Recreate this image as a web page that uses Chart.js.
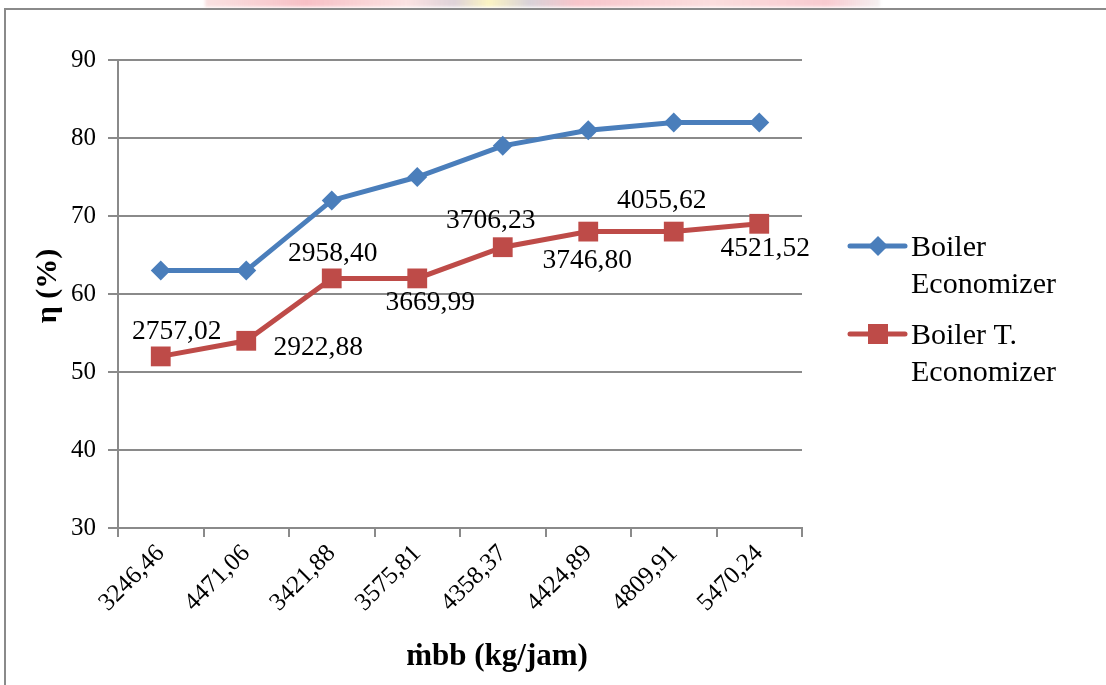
<!DOCTYPE html>
<html>
<head>
<meta charset="utf-8">
<script src="https://cdn.jsdelivr.net/npm/chart.js@4/dist/chart.umd.min.js"></script>
<style>
  html, body { margin: 0; padding: 0; background: #fff; }
  #wrap { position: relative; width: 1106px; height: 685px; overflow: hidden; }
  #frame { position: absolute; left: 4px; top: 8px; width: 1200px; height: 800px;
           border: 2px solid #8a8a8a; box-sizing: border-box; pointer-events: none; }
  #band { position: absolute; left: 205px; top: -4px; width: 675px; height: 11px;
          background: linear-gradient(90deg, rgba(238,170,170,0.35) 0%, rgba(240,140,150,0.55) 15%,
            rgba(245,190,190,0.45) 30%, rgba(200,180,190,0.6) 37%, rgba(250,240,170,0.7) 42%,
            rgba(190,180,190,0.6) 48%, rgba(240,150,160,0.55) 55%, rgba(245,180,180,0.45) 75%,
            rgba(240,150,160,0.5) 92%, rgba(230,220,220,0.4) 100%);
          filter: blur(1.5px); }
  canvas { position: absolute; left: 0; top: 0; }
</style>
</head>
<body>
<div id="wrap">
  <div id="band"></div>
  <div id="frame"></div>
  <canvas id="c" width="1106" height="685"></canvas>
</div>
<script>
// Mass flow of fuel (kg/jam) per test
const categories = ['3246,46', '4471,06', '3421,88', '3575,81', '4358,37', '4424,89', '4809,91', '5470,24'];
// Efficiency (%) with economizer
const boilerEconomizer = [63, 63, 72, 75, 79, 81, 82, 82];
// Efficiency (%) without economizer
const boilerTEconomizer = [52, 54, 62, 62, 66, 68, 68, 69];
// Annotations printed next to the red series
const redLabels = ['2757,02', '2922,88', '2958,40', '3669,99', '3706,23', '3746,80', '4055,62', '4521,52'];
const yTicks = [30, 40, 50, 60, 70, 80, 90];

const FONT = "'Liberation Serif', 'Times New Roman', serif";
const BLUE = '#4A7EBB';
const RED = '#BE4B48';
const GRID = '#8a8a8a';

// label offsets (text centre relative to the point)
const labelPlacement = [
  [16, -25], [72, 7], [1, -25], [13, 24], [-12, -26], [-1, 29], [-12, -31], [6, 25]
];

const pointLabelsPlugin = {
  id: 'pointLabels',
  afterDatasetsDraw(chart) {
    const meta = chart.getDatasetMeta(1);
    const ctx = chart.ctx;
    ctx.save();
    ctx.font = '27.5px ' + FONT;
    ctx.fillStyle = '#000';
    ctx.textAlign = 'center';
    ctx.textBaseline = 'middle';
    meta.data.forEach((pt, i) => {
      const [dx, dy] = labelPlacement[i];
      ctx.fillText(redLabels[i], pt.x + dx, pt.y + dy);
    });
    ctx.restore();
  }
};

const titlesPlugin = {
  id: 'axisTitles',
  afterDraw(chart) {
    const ctx = chart.ctx;
    const a = chart.chartArea;
    ctx.save();
    ctx.fillStyle = '#000';
    ctx.font = 'bold 31px ' + FONT;
    ctx.textAlign = 'center';
    ctx.textBaseline = 'middle';
    ctx.fillText('ṁbb (kg/jam)', (a.left + a.right) / 2 + 37, 657);
    ctx.translate(48, (a.top + a.bottom) / 2 - 8);
    ctx.rotate(-Math.PI / 2);
    ctx.font = 'bold 30px ' + FONT;
    ctx.fillText('η (%)', 0, 0);
    ctx.restore();
  }
};

function drawMarker(ctx, style, x, y, color) {
  ctx.fillStyle = color;
  ctx.beginPath();
  if (style === 'rectRot') {
    const r = 10;
    ctx.moveTo(x, y - r); ctx.lineTo(x + r, y); ctx.lineTo(x, y + r); ctx.lineTo(x - r, y);
    ctx.closePath();
  } else {
    ctx.rect(x - 10, y - 10, 20, 20);
  }
  ctx.fill();
}

const legendPlugin = {
  id: 'sideLegend',
  afterDraw(chart) {
    const ctx = chart.ctx;
    const x0 = chart.chartArea.right + 48;
    const items = [
      { lines: ['Boiler', 'Economizer'], y: 246, color: BLUE, style: 'rectRot' },
      { lines: ['Boiler T.', 'Economizer'], y: 334, color: RED, style: 'rect' }
    ];
    ctx.save();
    items.forEach(it => {
      ctx.strokeStyle = it.color;
      ctx.lineWidth = 5;
      ctx.lineCap = 'round';
      ctx.beginPath();
      ctx.moveTo(x0, it.y);
      ctx.lineTo(x0 + 55, it.y);
      ctx.stroke();
      drawMarker(ctx, it.style, x0 + 28, it.y, it.color);
      ctx.fillStyle = '#000';
      ctx.font = '30px ' + FONT;
      ctx.textAlign = 'left';
      ctx.textBaseline = 'middle';
      it.lines.forEach((t, k) => ctx.fillText(t, x0 + 61, it.y + 2 + k * 37));
    });
    ctx.restore();
  }
};

new Chart(document.getElementById('c'), {
  type: 'line',
  data: {
    labels: categories,
    datasets: [
      {
        label: 'Boiler Economizer',
        data: boilerEconomizer,
        borderColor: BLUE,
        backgroundColor: BLUE,
        borderWidth: 5,
        pointStyle: 'rectRot',
        pointRadius: 10,
        pointHoverRadius: 10,
        pointBorderWidth: 0,
        tension: 0
      },
      {
        label: 'Boiler T. Economizer',
        data: boilerTEconomizer,
        borderColor: RED,
        backgroundColor: RED,
        borderWidth: 5,
        pointStyle: 'rect',
        pointRadius: 14,
        pointHoverRadius: 14,
        pointBorderWidth: 0,
        tension: 0
      }
    ]
  },
  options: {
    responsive: false,
    animation: false,
    devicePixelRatio: 1,
    layout: { padding: { left: 14, right: 304, top: 60, bottom: 10 } },
    plugins: {
      legend: { display: false },
      tooltip: { enabled: false }
    },
    scales: {
      x: {
        type: 'category',
        offset: true,
        grid: { offset: true, drawOnChartArea: false, color: GRID, lineWidth: 2, tickLength: 9 },
        border: { display: true, color: GRID, width: 2 },
        ticks: {
          font: { family: FONT, size: 25 },
          color: '#000',
          minRotation: 45,
          maxRotation: 45,
          padding: 2,
          autoSkip: false
        },
        afterFit(scale) { scale.height = 147; }
      },
      y: {
        min: yTicks[0],
        max: yTicks[yTicks.length - 1],
        afterBuildTicks(scale) { scale.ticks = yTicks.map(v => ({ value: v })); },
        grid: { color: GRID, lineWidth: 2, tickLength: 10 },
        border: { display: true, color: GRID, width: 2 },
        ticks: {
          font: { family: FONT, size: 25 },
          color: '#000',
          padding: 12
        },
        afterFit(scale) { scale.width = 104; }
      }
    }
  },
  plugins: [pointLabelsPlugin, titlesPlugin, legendPlugin]
});
</script>
</body>
</html>
